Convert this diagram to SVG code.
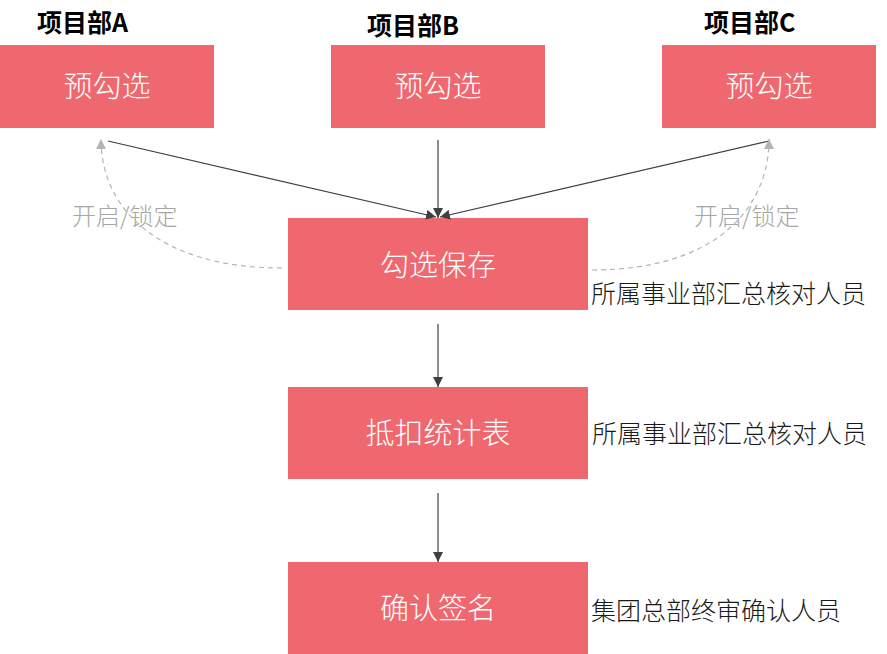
<svg xmlns="http://www.w3.org/2000/svg" width="887" height="654" viewBox="0 0 887 654">
<style>
.box{fill:#F0686F}
.bt{font-family:"Noto Sans CJK SC","Liberation Sans",sans-serif;font-size:29px;font-weight:300;fill:#ffffff;text-anchor:middle}
.hd{font-family:"Noto Sans CJK SC","Liberation Sans",sans-serif;font-size:25px;font-weight:bold;fill:#000000}
.side{font-family:"Noto Sans CJK SC","Liberation Sans",sans-serif;font-size:25px;font-weight:300;fill:#1a1a1a}
.gl{font-family:"Noto Sans CJK SC","Liberation Sans",sans-serif;font-size:24px;font-weight:300;fill:#a6a6a6}
.ln{stroke:#404040;stroke-width:1.2;fill:none}
.dl{stroke:#b4b4b4;stroke-width:1.2;fill:none;stroke-dasharray:5 4}
</style>
<defs>
<marker id="ah" viewBox="0 0 10 10" refX="10" refY="5" markerWidth="10" markerHeight="10" markerUnits="userSpaceOnUse" orient="auto"><path d="M0,0 L10,5 L0,10 z" fill="#404040"/></marker>
<marker id="ag" viewBox="0 0 10 10" refX="10" refY="5" markerWidth="10" markerHeight="10" markerUnits="userSpaceOnUse" orient="auto"><path d="M0,0 L10,5 L0,10 z" fill="#b4b4b4"/></marker>
</defs>
<g id="headA"><text class="hd" x="37" y="32">项目部A</text></g>
<g id="headB"><text class="hd" x="367" y="35">项目部B</text></g>
<g id="headC"><text class="hd" x="704" y="32">项目部C</text></g>
<g id="nodeA"><rect class="box" x="0" y="45" width="214" height="83"/><text class="bt" x="107" y="97">预勾选</text></g>
<g id="nodeB"><rect class="box" x="331" y="45" width="214" height="83"/><text class="bt" x="438" y="97">预勾选</text></g>
<g id="nodeC"><rect class="box" x="662" y="45" width="214" height="83"/><text class="bt" x="769" y="97">预勾选</text></g>
<g id="save"><rect class="box" x="288" y="218" width="300" height="92"/><text class="bt" x="438" y="276">勾选保存</text></g>
<g id="stat"><rect class="box" x="288" y="387" width="300" height="92"/><text class="bt" x="438" y="444">抵扣统计表</text></g>
<g id="sign"><rect class="box" x="288" y="562" width="300" height="92"/><text class="bt" x="438" y="619">确认签名</text></g>
<g id="labels">
<text class="side" x="591" y="303">所属事业部汇总核对人员</text>
<text class="side" x="592" y="443">所属事业部汇总核对人员</text>
<text class="side" x="591" y="620">集团总部终审确认人员</text>
<text class="gl" x="72" y="225">开启/锁定</text>
<text class="gl" x="694" y="225">开启/锁定</text>
</g>
<g id="connectors">
<path class="ln" d="M108,141 L436,217" marker-end="url(#ah)"/>
<path class="ln" d="M438,140 L438,218" marker-end="url(#ah)"/>
<path class="ln" d="M769,141 L440,217" marker-end="url(#ah)"/>
<path class="ln" d="M438,324 L438,387" marker-end="url(#ah)"/>
<path class="ln" d="M438,493 L438,562" marker-end="url(#ah)"/>
<path class="dl" d="M282,268 C160,268 101,210 101,139" marker-end="url(#ag)"/>
<path class="dl" d="M592,270 C714,270 769,210 769,139" marker-end="url(#ag)"/>
</g>
</svg>
